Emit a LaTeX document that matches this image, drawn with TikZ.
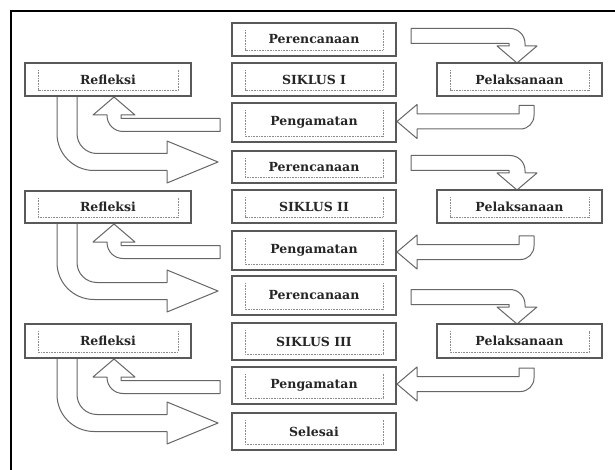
\documentclass[tikz,border=0pt]{standalone}
\usepackage{fontspec}
\setmainfont{DejaVu Serif}
\begin{document}
\begin{tikzpicture}[x=1pt,y=-1pt,
  box/.style={draw=black!65, line width=1.5pt, fill=white, inner sep=0pt,
    font=\bfseries\fontsize{12.5}{14}\selectfont, text=black!85,
    path picture={\draw[black!45, line width=0.6pt, dash pattern=on 1pt off 0.6pt]
      ([xshift=13pt,yshift=-7pt]path picture bounding box.north west) --
      ([xshift=13pt,yshift=6pt]path picture bounding box.south west) --
      ([xshift=-13pt,yshift=6pt]path picture bounding box.south east) --
      ([xshift=-13pt,yshift=-7pt]path picture bounding box.north east);}},
  cbox/.style={box, minimum width=164pt},
  lbox/.style={box, minimum width=166pt},
  rbox/.style={box, minimum width=165pt},
  blk/.style={draw=black!60, line width=1pt, fill=white, line join=round}
]
\useasboundingbox (0,0) rectangle (615,470);
\fill[white] (0,0) rectangle (615,470);
\draw[line width=2pt] (11,470) -- (11,11) -- (615,11);

% ---- block arrows ----
% right-down bent arrows (Perencanaan -> Pelaksanaan)
\foreach \T in {63,190,324}{
  \draw[blk] (411,\T-34.5) -- (510,\T-34.5) to[out=0,in=90] (525,\T-19.5)
    -- (525,\T-17) -- (537,\T-17) -- (517,\T) -- (497,\T-17) -- (509,\T-17)
    -- (509,\T-19.5) -- (411,\T-19.5) -- cycle;
}
% left bent arrows (Pelaksanaan -> Pengamatan)
\foreach \c in {121.5,252,384}{
  \draw[blk] (397,\c) -- (417,\c-17) -- (417,\c-7.5) -- (519,\c-7.5) -- (519,\c-16)
    -- (534,\c-16) -- (534,\c-6) to[out=-90,in=0] (520.5,\c+7.5) -- (417,\c+7.5)
    -- (417,\c+17) -- cycle;
}
% up bent arrows (Pengamatan -> Refleksi)
\foreach \T in {97,224,359}{
  \draw[blk] (114,\T) -- (135,\T+18) -- (121,\T+18) -- (121,\T+21.5) -- (220,\T+21.5)
    -- (220,\T+34.5) -- (123,\T+34.5) to[out=180,in=-90] (107,\T+18.5)
    -- (107,\T+18) -- (93,\T+18) -- cycle;
}
% big bent arrows (Refleksi -> Perencanaan / Selesai)
\foreach \Rb/\T in {96/162,223/291,358/423}{
  \draw[blk] (57,\Rb) -- (57,\T-28.5) to[out=-90,in=180] (94,\T+8.5) -- (167,\T+8.5)
    -- (167,\T+21) -- (218,\T) -- (167,\T-21) -- (167,\T-8.5) -- (97,\T-8.5)
    to[out=180,in=-90] (77,\T-28.5) -- (77,\Rb) -- cycle;
}

% ---- boxes ----
\node[cbox, minimum height=33pt] (p1) at (314,39.5) {Perencanaan};
\node[cbox, minimum height=33pt] (s1) at (314,79.5) {SIKLUS I};
\node[cbox, minimum height=39pt] (g1) at (314,122.5) {Pengamatan};
\node[cbox, minimum height=32pt] (p2) at (314,167) {Perencanaan};
\node[cbox, minimum height=33pt] (s2) at (314,206.5) {SIKLUS II};
\node[cbox, minimum height=39pt] (g2) at (314,250.5) {Pengamatan};
\node[cbox, minimum height=39pt] (p3) at (314,295.5) {Perencanaan};
\node[cbox, minimum height=37pt] (s3) at (314,341.5) {SIKLUS III};
\node[cbox, minimum height=37pt] (g3) at (314,385.5) {Pengamatan};
\node[cbox, minimum height=37pt] (se) at (314,431.5) {Selesai};

\node[lbox, minimum height=33pt] (r1) at (108,79.5) {Refleksi};
\node[lbox, minimum height=32pt] (r2) at (108,207) {Refleksi};
\node[lbox, minimum height=34pt] (r3) at (108,341) {Refleksi};

\node[rbox, minimum height=33pt] (l1) at (519.5,79.5) {Pelaksanaan};
\node[rbox, minimum height=33pt] (l2) at (519.5,206.5) {Pelaksanaan};
\node[rbox, minimum height=34pt] (l3) at (519.5,341) {Pelaksanaan};
\end{tikzpicture}
\end{document}
